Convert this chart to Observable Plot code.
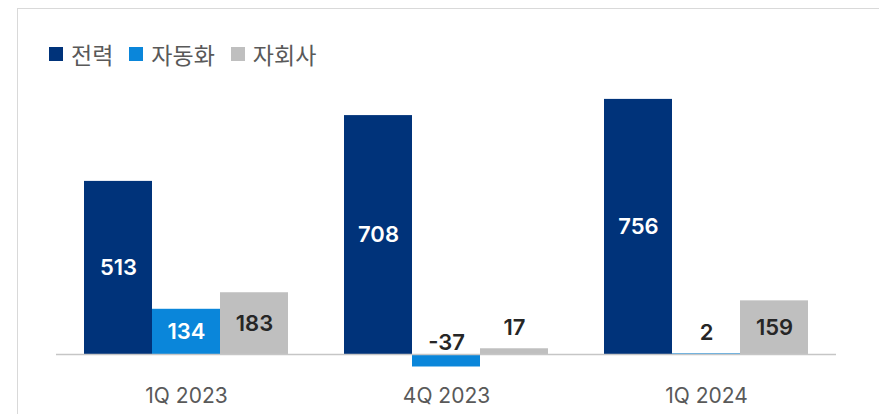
<!DOCTYPE html>
<html>
<head>
<meta charset="utf-8">
<script src="https://cdn.jsdelivr.net/npm/d3@7"></script>
<script src="https://cdn.jsdelivr.net/npm/@observablehq/plot@0.6"></script>
<style>
  html, body { margin: 0; padding: 0; background: #fff; }
  #wrap { position: relative; width: 879px; height: 414px; overflow: hidden; font-family: Inter, "Noto Sans CJK KR", sans-serif; }
  #frame { position: absolute; left: 17px; top: 8px; width: 900px; height: 500px; border-left: 1.5px solid #d9d9d9; border-top: 1.5px solid #d9d9d9; }
  #legend { position: absolute; left: 49px; top: 37px; display: flex; align-items: center; font-family: "Noto Sans CJK KR", sans-serif; font-size: 23px; color: #595959; }
  #legend .item { display: flex; align-items: center; margin-right: 16px; }
  #legend .sw { width: 14px; height: 14px; margin-right: 8px; }
  #chart { position: absolute; left: 0; top: 0; }
</style>
</head>
<body>
<div id="wrap">
  <div id="frame"></div>
  <div id="chart"></div>
  <div id="legend"></div>
</div>
<script>
const quarters = ["1Q 2023", "4Q 2023", "1Q 2024"];
const seriesNames = ["전력", "자동화", "자회사"];
const power = [513, 708, 756];
const automation = [134, -37, 2];
const subsidiary = [183, 17, 159];
const colors = ["#00337A", "#0A86DA", "#BFBFBF"];
const insideText = ["#ffffff", "#ffffff", "#262626"];

const valuesBySeries = [power, automation, subsidiary];
const rows = [];
valuesBySeries.forEach((vals, si) => {
  vals.forEach((v, qi) => rows.push({quarter: quarters[qi], series: seriesNames[si], si, value: v}));
});

// legend
const legend = document.getElementById("legend");
seriesNames.forEach((name, i) => {
  const item = document.createElement("div");
  item.className = "item";
  const sw = document.createElement("div");
  sw.className = "sw";
  sw.style.background = colors[i];
  const label = document.createElement("span");
  label.textContent = name;
  item.appendChild(sw);
  item.appendChild(label);
  legend.appendChild(item);
});

const barW = 68;
const marks = [];
seriesNames.forEach((name, i) => {
  const data = rows.filter(d => d.si === i);
  marks.push(Plot.barY(data, {
    x: "quarter", y: "value", fill: colors[i],
    insetLeft: i * barW, insetRight: (2 - i) * barW
  }));
});
marks.push(Plot.ruleY([0], {stroke: "#c6c6c6", strokeWidth: 1.5}));
seriesNames.forEach((name, i) => {
  const data = rows.filter(d => d.si === i);
  const dx = (i - 1) * barW;
  const common = {x: "quarter", text: d => String(d.value), dx, fontSize: 22, fontWeight: 600};
  marks.push(Plot.text(data.filter(d => Math.abs(d.value) >= 100), {
    ...common, y: d => d.value / 2, fill: insideText[i]
  }));
  marks.push(Plot.text(data.filter(d => Math.abs(d.value) < 100 && d.value >= 0), {
    ...common, y: "value", dy: -21, fill: "#262626"
  }));
  marks.push(Plot.text(data.filter(d => d.value < 0), {
    ...common, y: 0, dy: -12, fill: "#262626"
  }));
});
marks.push(Plot.axisX({tickSize: 0, tickPadding: 7, fontSize: 21, color: "#595959", fontWeight: 400}));

const chart = Plot.plot({
  width: 879,
  height: 414,
  marginLeft: 56,
  marginRight: 43,
  marginTop: 50.3,
  marginBottom: 33,
  style: {fontFamily: "Inter, 'Noto Sans CJK KR', sans-serif", background: "transparent", overflow: "visible"},
  x: {domain: quarters, paddingInner: 0.2154, paddingOuter: 0.1077, label: null},
  y: {domain: [-80, 900], axis: null},
  marks
});
document.getElementById("chart").appendChild(chart);
</script>
</body>
</html>
